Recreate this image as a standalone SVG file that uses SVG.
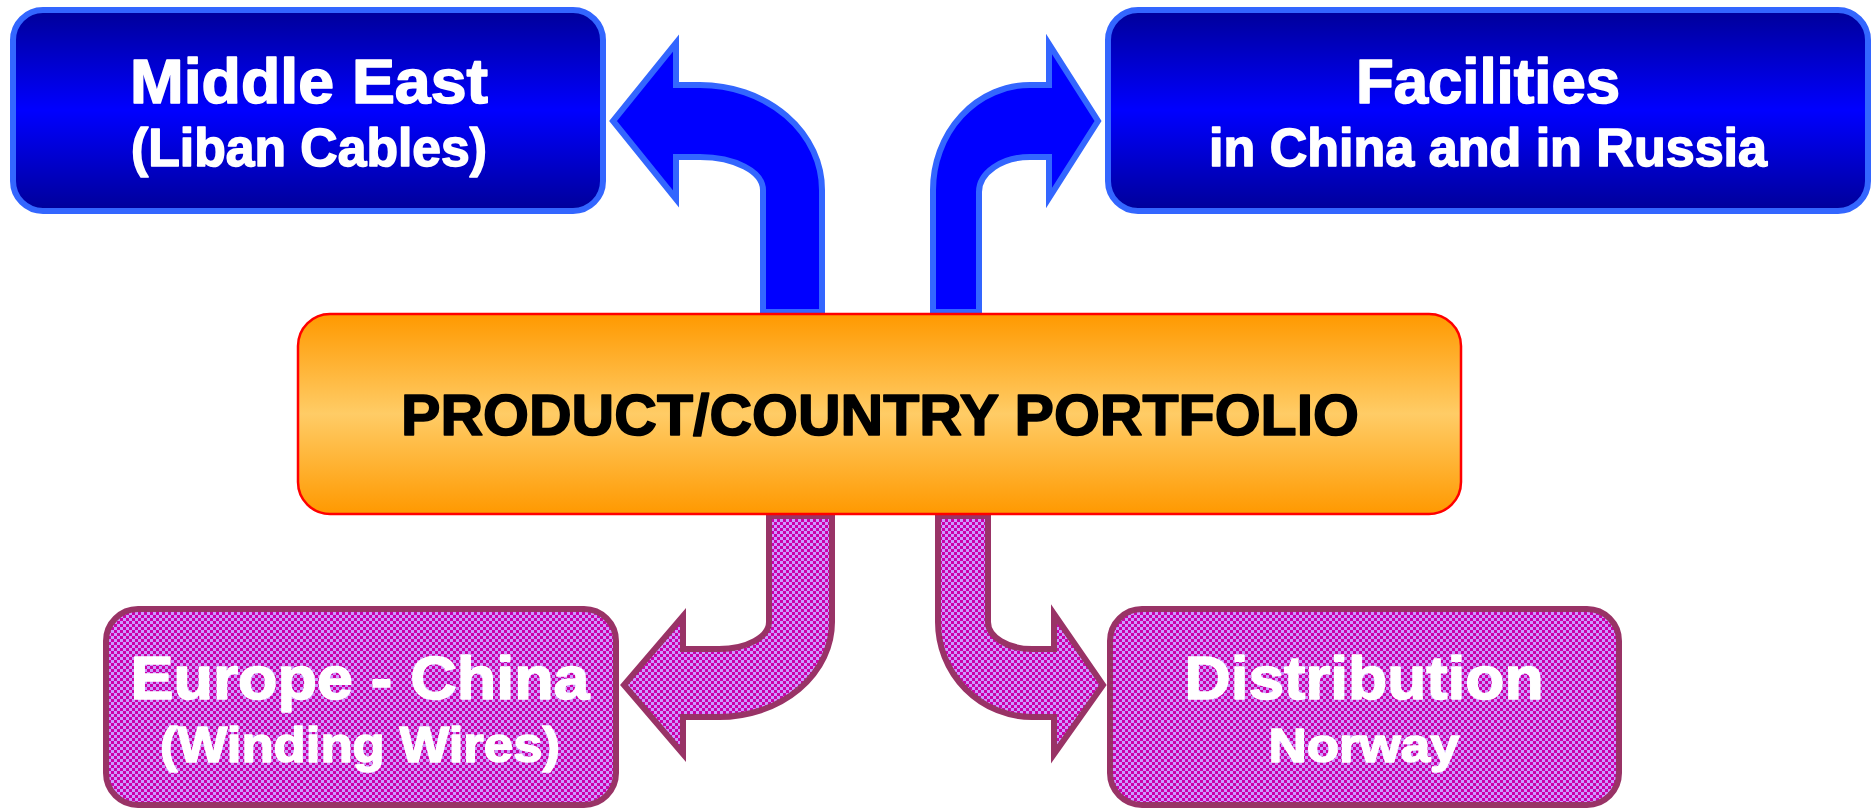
<svg xmlns="http://www.w3.org/2000/svg" width="1874" height="808" viewBox="0 0 1874 808">
  <defs>
    <linearGradient id="gBlue" x1="0" y1="0" x2="0" y2="1">
      <stop offset="0" stop-color="#000099"/>
      <stop offset="0.5" stop-color="#0000FF"/>
      <stop offset="1" stop-color="#000099"/>
    </linearGradient>
    <linearGradient id="gOrange" x1="0" y1="0" x2="0" y2="1">
      <stop offset="0" stop-color="#FF9900"/>
      <stop offset="0.5" stop-color="#FFCC66"/>
      <stop offset="1" stop-color="#FF9900"/>
    </linearGradient>
    <pattern id="chk" width="6" height="6" patternUnits="userSpaceOnUse">
      <rect width="6" height="6" fill="#CC99FF"/>
      <rect width="3" height="3" fill="#CC00AA"/>
      <rect x="3" y="3" width="3" height="3" fill="#CC00AA"/>
    </pattern>
  </defs>
  <style>
    .blueBox { fill: url(#gBlue); stroke: #3366FF; stroke-width: 6; }
    .pinkBox { fill: url(#chk); stroke: #993366; stroke-width: 6; }
    .coreBox { fill: url(#gOrange); stroke: #FF0000; stroke-width: 2.5; }
    .blueArrow { fill: #0000FF; stroke: #3366FF; stroke-width: 6; stroke-miterlimit: 10; }
    .pinkArrow { fill: url(#chk); stroke: #993366; stroke-width: 6; stroke-miterlimit: 10; }
    text { font-family: "Liberation Sans", Arial, sans-serif; font-weight: bold; text-anchor: middle; stroke-width: 1.6; stroke-linejoin: round; }
    .light { fill: #FFFFFF; stroke: #FFFFFF; }
    .dark { fill: #000000; stroke: #000000; }
  </style>

  <rect width="1874" height="808" fill="#FFFFFF"/>

  <!-- connectors: bent block arrows leaving the portfolio box -->
  <g id="connectors">
    <path class="blueArrow" d="M 763 312 L 763 190 A 63 33 0 0 0 700 157 L 676 157 L 676 199 L 613 121 L 676 43 L 676 85 L 700 85 A 122 105 0 0 1 822 190 L 822 312 Z"/>
    <path class="blueArrow" d="M 933 312 L 933 190 A 97 105 0 0 1 1030 85 L 1049 85 L 1049 44 L 1098 121 L 1049 198 L 1049 157 L 1030 157 A 51 35 0 0 0 979 192 L 979 312 Z"/>
    <path class="pinkArrow" d="M 769 516 L 769 622 A 50 27 0 0 1 719 649 L 683 649 L 683 616 L 624 685 L 683 754 L 683 717 L 719 717 A 113 95 0 0 0 832 622 L 832 516 Z"/>
    <path class="pinkArrow" d="M 938 516 L 938 622 A 94 95 0 0 0 1032 717 L 1054 717 L 1054 754 L 1103 685 L 1054 614 L 1054 649 L 1032 649 A 44 27 0 0 1 988 622 L 988 516 Z"/>
  </g>

  <g id="middle-east">
    <rect class="blueBox" x="13" y="10" width="590" height="201" rx="30"/>
    <text class="light" x="309" y="103" font-size="63" textLength="358" lengthAdjust="spacingAndGlyphs">Middle East</text>
    <text class="light" x="309" y="166" font-size="53" textLength="356" lengthAdjust="spacingAndGlyphs">(Liban Cables)</text>
  </g>

  <g id="facilities">
    <rect class="blueBox" x="1108" y="10" width="760" height="201" rx="30"/>
    <text class="light" x="1488" y="103" font-size="63" textLength="264" lengthAdjust="spacingAndGlyphs">Facilities</text>
    <text class="light" x="1488" y="166" font-size="53" textLength="558" lengthAdjust="spacingAndGlyphs">in China and in Russia</text>
  </g>

  <g id="portfolio">
    <rect class="coreBox" x="298" y="314" width="1163" height="200" rx="32"/>
    <text class="dark" x="880" y="435" font-size="58" textLength="958" lengthAdjust="spacingAndGlyphs">PRODUCT/COUNTRY PORTFOLIO</text>
  </g>

  <g id="europe-china">
    <rect class="pinkBox" x="106" y="609" width="510" height="196" rx="32"/>
    <text class="light" x="360" y="699" font-size="62" textLength="459" lengthAdjust="spacingAndGlyphs">Europe - China</text>
    <text class="light" x="360" y="762" font-size="50" textLength="400" lengthAdjust="spacingAndGlyphs">(Winding Wires)</text>
  </g>

  <g id="distribution">
    <rect class="pinkBox" x="1110" y="609" width="509" height="196" rx="32"/>
    <text class="light" x="1364" y="699" font-size="62" textLength="359" lengthAdjust="spacingAndGlyphs">Distribution</text>
    <text class="light" x="1364" y="762" font-size="48" textLength="191" lengthAdjust="spacingAndGlyphs">Norway</text>
  </g>
</svg>
